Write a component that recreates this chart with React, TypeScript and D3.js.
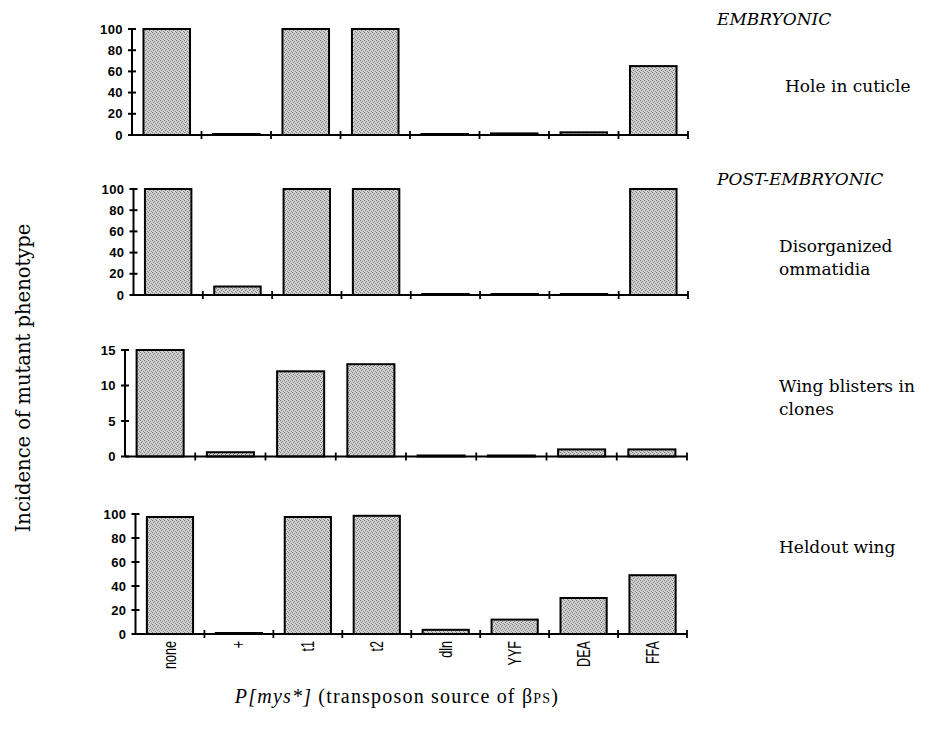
import React from "react";
import * as d3 from "d3";

const categories = ["none", "+", "t1", "t2", "dln", "YYF", "DEA", "FFA"];
const holeInCuticle = [100, 0, 100, 100, 0, 1.5, 2.5, 65];
const disorganizedOmmatidia = [100, 8, 100, 100, 0, 0, 0, 100];
const wingBlisters = [15, 0.6, 12, 13, 0, 0, 1, 1];
const heldoutWing = [97.5, 0.5, 97.5, 98.5, 3.5, 12, 30, 49];
const ticksPercent = [0, 20, 40, 60, 80, 100];
const ticksBlisters = [0, 5, 10, 15];

const panelLayout = [
  { values: holeInCuticle, ticks: ticksPercent, max: 100, x0: 132, x1: 688, y0: 135, yTop: 29 },
  { values: disorganizedOmmatidia, ticks: ticksPercent, max: 100, x0: 133.5, x1: 688, y0: 295, yTop: 189 },
  { values: wingBlisters, ticks: ticksBlisters, max: 15, x0: 125, x1: 687, y0: 456.5, yTop: 350 },
  { values: heldoutWing, ticks: ticksPercent, max: 100, x0: 135.5, x1: 687, y0: 634, yTop: 514 },
];

const serif = "'DejaVu Serif', serif";

function Panel({ p, showLabels }: { p: any; showLabels: boolean }) {
  const x = d3.scaleBand<string>().domain(categories).range([p.x0, p.x1]).paddingInner(0.33).paddingOuter(0.165);
  const y = d3.scaleLinear().domain([0, p.max]).range([p.y0, p.yTop]);
  const step = x.step();
  return (
    <g>
      {categories.map((c, i) => {
        const v = p.values[i];
        const top = y(v);
        const h = Math.max(p.y0 - top, 1);
        return (
          <rect key={c} x={x(c)} y={p.y0 - h} width={x.bandwidth()} height={h}
            fill="url(#stipple)" stroke="#000" strokeWidth={2} />
        );
      })}
      <line x1={p.x0} x2={p.x0} y1={p.y0} y2={p.yTop} stroke="#000" strokeWidth={2} />
      <line x1={p.x0} x2={p.x1} y1={p.y0} y2={p.y0} stroke="#000" strokeWidth={2} />
      {p.ticks.map((t: number) => (
        <g key={t}>
          <line x1={p.x0 - 4} x2={p.x0 + 4} y1={y(t)} y2={y(t)} stroke="#000" strokeWidth={2} />
          <text x={p.x0 - 9} y={y(t)} dy="0.36em" textAnchor="end" fontFamily="'Liberation Sans', Arial, sans-serif"
            fontWeight="bold" fontSize={13} letterSpacing={0.4}>{t}</text>
        </g>
      ))}
      {d3.range(1, categories.length + 1).map((i) => (
        <line key={i} x1={p.x0 + i * step} x2={p.x0 + i * step} y1={p.y0 - 4} y2={p.y0 + 4} stroke="#000" strokeWidth={1.8} />
      ))}
      {showLabels && categories.map((c) => (
        <text key={c} transform={`translate(${(x(c) as number) + x.bandwidth() / 2},${p.y0 + 7}) rotate(-90) scale(0.7,1)`}
          textAnchor="end" dy="0.35em" fontFamily="'Liberation Sans', Arial, sans-serif" fontSize={18}>{c}</text>
      ))}
    </g>
  );
}

export default function App() {
  return (
    <svg width={934} height={733} style={{ position: "absolute", left: 0, top: 0, background: "#fff" }}>
      <defs>
        <pattern id="stipple" width={4} height={4} patternUnits="userSpaceOnUse">
          <rect width={4} height={4} fill="#d0d0d0" />
          <rect x={0} y={0} width={1} height={1} fill="#777" />
          <rect x={2} y={1} width={1} height={1} fill="#888" />
          <rect x={1} y={2} width={1} height={1} fill="#777" />
          <rect x={3} y={3} width={1} height={1} fill="#888" />
        </pattern>
      </defs>
      <rect width={934} height={733} fill="#fff" />
      {panelLayout.map((p, i) => (
        <Panel key={i} p={p} showLabels={i === panelLayout.length - 1} />
      ))}
      <g fontFamily={serif} fontSize={17} fill="#000">
        <text x={717} y={25} fontStyle="italic">EMBRYONIC</text>
        <text x={785} y={92}>Hole in cuticle</text>
        <text x={717} y={185} fontStyle="italic">POST-EMBRYONIC</text>
        <text x={779} y={252}>Disorganized</text>
        <text x={779} y={275}>ommatidia</text>
        <text x={779} y={392}>Wing blisters in</text>
        <text x={779} y={415}>clones</text>
        <text x={779} y={553}>Heldout wing</text>
        <text transform="translate(30,378) rotate(-90)" textAnchor="middle" fontSize={19.5}>Incidence of mutant phenotype</text>
      </g>
      <text x={397} y={703} textAnchor="middle" fontFamily="'Liberation Serif', 'Times New Roman', serif" fontSize={20} letterSpacing={1.2}>
        <tspan fontStyle="italic">P[mys*]</tspan>
        <tspan> (transposon source of β</tspan>
        <tspan fontSize={14}>PS</tspan>
        <tspan>)</tspan>
      </text>
    </svg>
  );
}
